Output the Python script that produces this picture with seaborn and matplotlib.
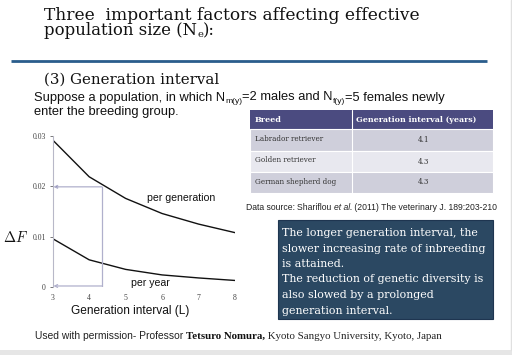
import matplotlib
matplotlib.use("Agg")
import matplotlib.pyplot as plt
import seaborn as sns
import pandas as pd
from matplotlib.patches import Rectangle

sns.set_theme(style="white")
plt.rcParams["mathtext.fontset"] = "cm"

# ---- data ----
gen_interval = [3, 4, 5, 6, 7, 8]
dF_per_generation = [0.0292, 0.0219, 0.0176, 0.0146, 0.0125, 0.0108]
dF_per_year = [0.0096, 0.0054, 0.0035, 0.0024, 0.0018, 0.0013]
series_labels = ["per generation", "per year"]
y_ticks = [0, 0.01, 0.02, 0.03]
y_tick_labels = ["0", "0.01", "0.02", "0.03"]
x_ticks = [3, 4, 5, 6, 7, 8]
arrow_L = 4.35
arrow_dF = 0.0199

breeds = ["Labrador retriever", "Golden retriever", "German shepherd dog"]
breed_intervals = ["4.1", "4.3", "4.3"]
table_header = ["Breed", "Generation interval (years)"]

W, H = 512, 355
fig = plt.figure(figsize=(W / 100, H / 100), dpi=100)
fig.patch.set_facecolor("white")

ov = fig.add_axes([0, 0, 1, 1], zorder=0)
ov.set_xlim(0, W)
ov.set_ylim(H, 0)
ov.axis("off")

renderer = fig.canvas.get_renderer()

def runs(x, y, pieces, target_w=None, va="baseline"):
    """Draw text pieces one after another; optionally scale to a target width."""
    def draw(scale):
        xx = x
        made = []
        for s, kw in pieces:
            kw = dict(kw)
            dy = kw.pop("dy", 0) * scale
            kw["fontsize"] = kw["fontsize"] * scale
            t = ov.text(xx, y + dy, s, va=va, ha="left", **kw)
            xx += t.get_window_extent(renderer).width
            made.append(t)
        return made, xx - x
    made, w = draw(1.0)
    if target_w is not None:
        for t in made:
            t.remove()
        made, w = draw(target_w / w)
    return made

def fit_size(s, target_w, **kw):
    t = ov.text(0, 0, s, fontsize=10, **kw)
    w = t.get_window_extent(renderer).width
    t.remove()
    return 10 * target_w / w

GEO = "DejaVu Serif"
serif = "Liberation Serif"
sans = "Liberation Sans"
ink = "#111111"

# title
runs(44, 19.5, [("Three  important factors affecting effective",
                 dict(fontsize=14, family=GEO, color=ink))], target_w=376)
runs(44, 35, [("population size (N", dict(fontsize=14, family=GEO, color=ink)),
              ("e", dict(fontsize=8.5, family=GEO, color=ink, dy=2.5)),
              ("):", dict(fontsize=14, family=GEO, color=ink))], target_w=172)
ov.plot([11, 487], [61, 61], color="#2a5d8c", lw=2, solid_capstyle="butt")

runs(44, 83.5, [("(3) Generation interval", dict(fontsize=12, family=GEO, color=ink))],
     target_w=174)

fs = 9.2
runs(34, 100.5, [("Suppose a population, in which N", dict(fontsize=fs, family=sans, color=ink)),
                 ("m(y)", dict(fontsize=6, family=sans, color=ink, dy=2.5)),
                 ("=2 males and N", dict(fontsize=fs, family=sans, color=ink)),
                 ("f(y)", dict(fontsize=6, family=sans, color=ink, dy=2.5)),
                 ("=5 females newly", dict(fontsize=fs, family=sans, color=ink))],
     target_w=412)
ov.text(34, 114.5, "enter the breeding group.", fontsize=fs * 1.01, family=sans,
        color=ink, va="baseline")

# table
tx0, tx1, tx2 = 250, 352, 493
row_edges = [110, 129, 151, 172, 193]
ov.add_patch(Rectangle((tx0, row_edges[0]), tx2 - tx0, row_edges[1] - row_edges[0],
                       facecolor="#4b4b80", edgecolor="none"))
hy = (row_edges[0] + row_edges[1]) / 2 + 2.5
runs(tx0 + 5, hy, [(table_header[0], dict(fontsize=6, family=GEO, weight="bold", color="white"))],
     target_w=27)
runs(tx1 + 4, hy, [(table_header[1], dict(fontsize=6, family=GEO, weight="bold", color="white"))],
     target_w=120)
ov.plot([tx1, tx1], [row_edges[0], row_edges[1]], color="white", lw=0.8)
row_colors = ["#cfcfdb", "#e8e8ef", "#cfcfdb"]
cell_fs = fit_size(breeds[0], 70, family=GEO)
for i, (b, v) in enumerate(zip(breeds, breed_intervals)):
    y0, y1 = row_edges[i + 1], row_edges[i + 2]
    ov.add_patch(Rectangle((tx0, y0), tx2 - tx0, y1 - y0, facecolor=row_colors[i],
                           edgecolor="white", lw=0.8))
    ov.plot([tx1, tx1], [y0, y1], color="white", lw=0.8)
    ov.text(tx0 + 5, (y0 + y1) / 2 - 1, b, fontsize=cell_fs, family=GEO, color="#333333",
            va="center")
    ov.text((tx1 + tx2) / 2 + 1, (y0 + y1) / 2, v, fontsize=cell_fs, family=GEO,
            color="#333333", va="center", ha="center")

runs(246, 210, [("Data source: ", dict(fontsize=6.3, family=sans, color="#222222")),
                ("Shariflou ", dict(fontsize=6.3, family=sans, color="#222222")),
                ("et al.", dict(fontsize=6.3, family=sans, style="italic", color="#222222")),
                (" (2011) The veterinary J. 189:203-210", dict(fontsize=6.3, family=sans,
                                                             color="#222222"))],
     target_w=250)

# text box
ov.add_patch(Rectangle((278, 220), 215, 99, facecolor="#2b4862", edgecolor="#1e3550", lw=0.8))
box_lines = ["The longer generation interval, the",
             "slower increasing rate of inbreeding",
             "is attained.",
             "The reduction of genetic diversity is",
             "also slowed by a prolonged",
             "generation interval."]
box_fs = fit_size(box_lines[0], 198, family=GEO)
for i, ln in enumerate(box_lines):
    ov.text(282.5, 236 + i * 15.5, ln, fontsize=box_fs, family=GEO, color="white",
            va="baseline")

# footer
runs(35, 339, [("Used with permission- Professor ", dict(fontsize=6.6, family=sans, color="#222222")),
               ("Tetsuro Nomura,", dict(fontsize=7, family=serif, weight="bold", color=ink)),
               (" Kyoto Sangyo University, Kyoto, Japan", dict(fontsize=7, family=serif,
                                                               color="#222222"))],
     target_w=410)
ov.add_patch(Rectangle((0, 350), W, 5, facecolor="#e6e6e6", edgecolor="none"))
ov.plot([511, 511], [0, 350], color="#e0e0e0", lw=1)

# ---- chart ----
ax = fig.add_axes([52.7 / W, 1 - 287 / H, (235 - 52.7) / W, (287 - 136) / H], zorder=2)
ax.patch.set_alpha(0)
df = pd.DataFrame({
    "L": gen_interval * 2,
    "dF": dF_per_generation + dF_per_year,
    "series": [series_labels[0]] * len(gen_interval) + [series_labels[1]] * len(gen_interval),
})
sns.lineplot(data=df, x="L", y="dF", hue="series", palette=["#111111", "#111111"],
             legend=False, lw=1.0, ax=ax)
ax.set_xlim(3, 8)
ax.set_ylim(0, 0.03)
ax.set_xticks(x_ticks)
ax.set_xticklabels([str(v) for v in x_ticks])
ax.set_yticks(y_ticks)
ax.set_yticklabels(y_tick_labels)
ax.tick_params(axis="both", labelsize=5.6, colors="#444444", length=2, width=0.5, pad=3,
               left=True, bottom=False)
for lbl in ax.get_xticklabels() + ax.get_yticklabels():
    lbl.set_family(serif)
for s in ["top", "right", "bottom"]:
    ax.spines[s].set_visible(False)
ax.spines["left"].set_color("#b8b8c8")
ax.spines["left"].set_linewidth(0.8)
ax.set_xlabel("")
ax.set_ylabel("")

ax.plot([arrow_L, arrow_L], [0, arrow_dF], color="#b0b0cc", lw=0.9)
ax.annotate("", xy=(3.02, arrow_dF), xytext=(arrow_L, arrow_dF),
            arrowprops=dict(arrowstyle="-|>", color="#b0b0cc", lw=0.9,
                            mutation_scale=5, fc="#3a3a90", shrinkA=0, shrinkB=0))
ax.annotate("", xy=(3.02, 0.0002), xytext=(arrow_L, 0.0002),
            arrowprops=dict(arrowstyle="->", color="#b0b0cc", lw=0.9,
                            mutation_scale=5, shrinkA=0, shrinkB=0))

ax.text(6.53, 0.0176, series_labels[0], fontsize=7.6, family=sans, color=ink,
        ha="center", va="center")
ax.text(5.67, 0.0008, series_labels[1], fontsize=7.6, family=sans, color=ink,
        ha="center", va="center")

ov.text(16, 237, r"$\Delta F$", fontsize=10.5, color=ink, ha="center", va="center")
ov.text(130, 311, "Generation interval (L)", fontsize=8.6, family=sans, color=ink,
        ha="center", va="center")

fig.savefig("out.png", dpi=100)
